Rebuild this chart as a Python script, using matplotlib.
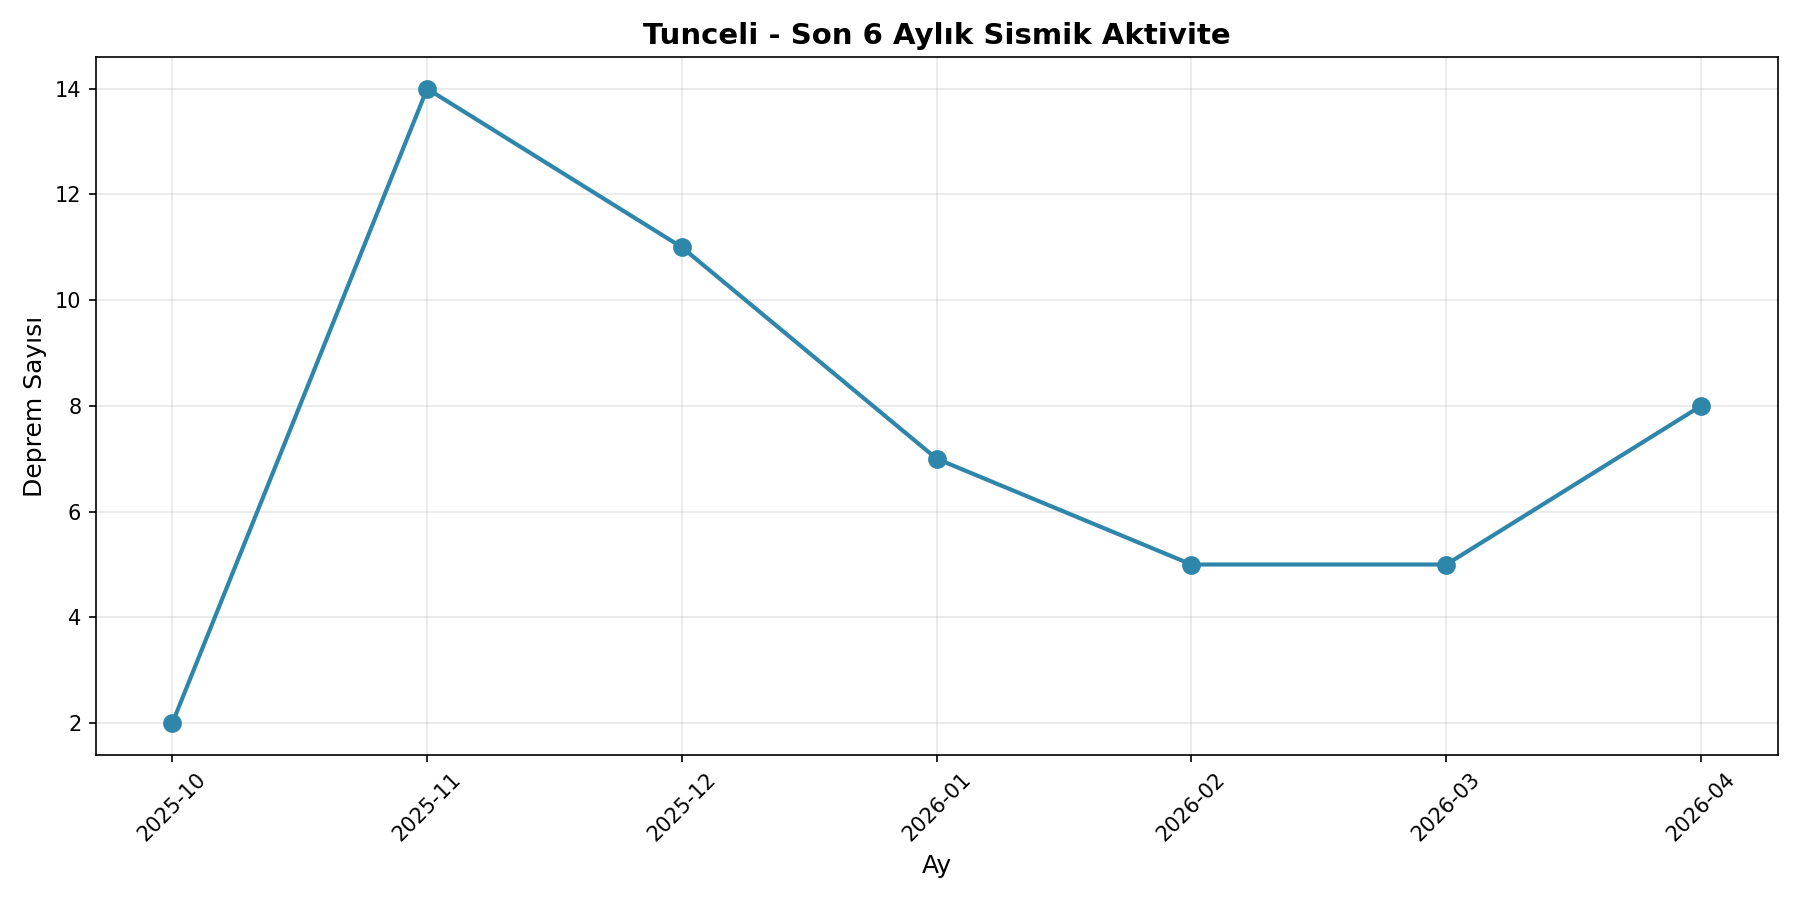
import matplotlib
matplotlib.use("Agg")
import matplotlib.pyplot as plt

months = ["2025-10", "2025-11", "2025-12", "2026-01", "2026-02", "2026-03", "2026-04"]
counts = [2, 14, 11, 7, 5, 5, 8]

fig, ax = plt.subplots(figsize=(12, 6), dpi=150)
ax.plot(months, counts, marker="o", color="#2E86AB", linewidth=2, markersize=8)
ax.set_title("Tunceli - Son 6 Aylık Sismik Aktivite", fontsize=14, fontweight="bold")
ax.set_xlabel("Ay", fontsize=12)
ax.set_ylabel("Deprem Sayısı", fontsize=12)
ax.grid(True, alpha=0.3)
plt.xticks(rotation=45)
plt.tight_layout()
plt.savefig("out.png")
